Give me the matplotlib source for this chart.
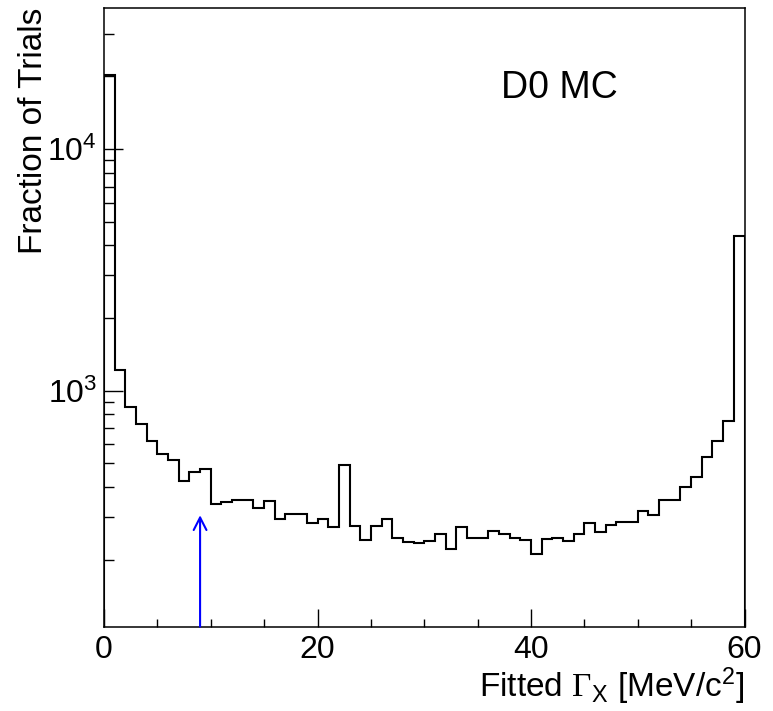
import numpy as np
import matplotlib
matplotlib.use("Agg")
import matplotlib.pyplot as plt
from matplotlib.ticker import MultipleLocator, LogLocator, NullFormatter

plt.rcParams['font.family'] = ['Liberation Sans', 'DejaVu Sans']
plt.rcParams['mathtext.fontset'] = 'custom'
plt.rcParams['mathtext.rm'] = 'Liberation Sans'
plt.rcParams['mathtext.it'] = 'Liberation Sans:italic'
plt.rcParams['mathtext.sf'] = 'Liberation Sans'
plt.rcParams['mathtext.bf'] = 'Liberation Serif'

# Histogram: 60 bins of 1 MeV/c^2 from 0 to 60
bin_edges = np.arange(0, 61, 1)
counts = [20300, 1218, 854, 726, 620, 547, 517, 424, 460, 474,
          340, 346, 352, 352, 328, 351, 295, 308, 308, 282,
          295, 273, 491, 276, 241, 276, 293, 246, 237, 233,
          239, 254, 222, 273, 246, 246, 262, 254, 245, 241,
          210, 243, 246, 239, 256, 283, 260, 278, 287, 287,
          318, 305, 352, 352, 400, 440, 530, 621, 752, 4375]
arrow_x = 9.0
arrow_top = 305
y_min, y_max = 105.4, 38300

fig = plt.figure(figsize=(7.73, 7.11), dpi=100)
ax = fig.add_axes([104/773, 1 - 626.7/711, (744.5 - 104)/773, (626.7 - 8.3)/711])

ax.stairs(counts, bin_edges, baseline=1, color='black', lw=1.5)
ax.set_yscale('log')
ax.set_xlim(0, 60)
ax.set_ylim(y_min, y_max)

ax.annotate('', xy=(arrow_x, arrow_top), xytext=(arrow_x, y_min),
            arrowprops=dict(arrowstyle='->,head_length=0.45,head_width=0.23',
                            color='blue', lw=1.5, shrinkA=0, shrinkB=0,
                            mutation_scale=20))

ax.xaxis.set_major_locator(MultipleLocator(20))
ax.xaxis.set_minor_locator(MultipleLocator(5))
ax.yaxis.set_major_locator(LogLocator(base=10, numticks=10))
ax.yaxis.set_minor_locator(LogLocator(base=10, subs=np.arange(2, 10), numticks=20))
ax.yaxis.set_minor_formatter(NullFormatter())

ax.tick_params(axis='both', which='both', direction='in', top=False, right=False,
               labelsize=23, width=1.0)
ax.tick_params(axis='x', which='major', length=13, pad=6)
ax.tick_params(axis='x', which='minor', length=6)
ax.tick_params(axis='y', which='major', length=14, pad=5)
ax.tick_params(axis='y', which='minor', length=7)

for s in ax.spines.values():
    s.set_linewidth(1.1)

fig.text(34/773, 1 - 8/711, 'Fraction of Trials', rotation=90, ha='center', va='top',
         fontsize=24)
fig.text(744/773, 1 - 697/711, r'Fitted $\mathbf{\Gamma}_{\mathrm{X}}$ [MeV/c$^{2}$]',
         ha='right', va='baseline', fontsize=24)
fig.text(501/773, 1 - 98.3/711, 'D0 MC', ha='left', va='baseline', fontsize=27)

fig.savefig('out.png', dpi=100)
